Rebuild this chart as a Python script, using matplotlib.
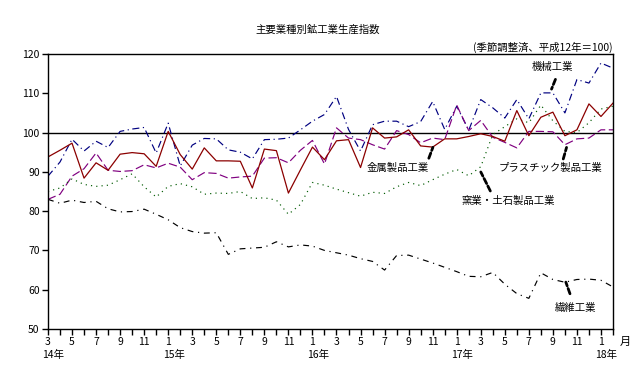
import matplotlib.pyplot as plt
import numpy as np

plt.rcParams['font.family'] = ['Noto Sans CJK JP', 'DejaVu Sans']

# months 14/3 .. 18/2 (index 0..47)
month_labels = ['3', '', '5', '', '7', '', '9', '', '11', '', '1', '',
                '3', '', '5', '', '7', '', '9', '', '11', '', '1', '',
                '3', '', '5', '', '7', '', '9', '', '11', '', '1', '',
                '3', '', '5', '', '7', '', '9', '', '11', '', '1', '']
year_labels = ['14年', '15年', '16年', '17年', '18年']
year_pos = [0, 10, 22, 34, 46]

kikai = [88.9, 92.5, 98.3, 95.3, 97.8, 96.2, 100.3, 100.9, 101.3, 94.8, 102.4, 91.5,
         96.8, 98.5, 98.4, 95.6, 95.0, 93.3, 98.2, 98.3, 98.6, 100.7, 102.9, 104.6,
         109.2, 100.8, 95.3, 102.0, 102.9, 102.9, 101.5, 102.8, 107.9, 100.8, 106.7, 100.6,
         108.4, 106.3, 103.7, 108.4, 103.5, 110.1, 110.1, 105.0, 113.5, 112.6, 117.7, 116.4]
kinzoku = [93.8, 95.5, 97.3, 88.4, 92.3, 90.4, 94.5, 94.9, 94.6, 91.4, 100.3, 94.4,
           90.7, 96.1, 92.8, 92.8, 92.7, 85.9, 95.8, 95.4, 84.6, 90.5, 96.3, 93.1,
           97.9, 98.2, 91.1, 101.2, 98.6, 98.9, 100.7, 96.6, 96.3, 98.4, 98.4, 99.0,
           99.7, 99.0, 97.8, 105.6, 99.2, 103.9, 105.2, 99.2, 100.7, 107.3, 104.1, 107.5]
plastic = [83.0, 84.3, 88.9, 90.8, 94.8, 90.4, 90.1, 90.3, 91.8, 91.0, 92.2, 91.2,
           88.0, 89.8, 89.6, 88.4, 88.7, 88.9, 93.5, 93.6, 92.3, 95.5, 98.0, 92.0,
           101.2, 98.6, 98.2, 96.9, 95.8, 100.5, 99.5, 97.4, 98.6, 98.2, 107.0, 100.5,
           103.1, 98.8, 97.5, 96.1, 100.3, 100.3, 100.2, 96.9, 98.4, 98.6, 100.7, 100.7]
yogyo = [85.0, 85.9, 88.2, 86.8, 86.3, 86.6, 88.0, 89.5, 86.2, 83.6, 86.3, 87.0,
         86.2, 84.3, 84.6, 84.5, 85.0, 83.2, 83.4, 82.8, 79.2, 81.7, 87.3, 86.6,
         85.6, 84.7, 83.8, 84.8, 84.5, 86.2, 87.3, 86.5, 88.0, 89.4, 90.6, 89.0,
         91.3, 99.5, 101.5, 103.5, 102.5, 107.0, 103.0, 100.3, 100.0, 102.5, 106.0, 106.7]
seni = [83.0, 82.0, 82.8, 82.2, 82.5, 80.6, 79.8, 79.9, 80.5, 79.2, 77.8, 75.8,
        74.8, 74.4, 74.5, 69.0, 70.4, 70.6, 70.8, 72.2, 70.9, 71.4, 71.1, 70.0,
        69.4, 68.8, 67.9, 67.2, 65.0, 68.7, 68.8, 67.8, 66.8, 65.7, 64.6, 63.4,
        63.3, 64.4, 61.4, 59.0, 57.8, 64.3, 62.6, 61.9, 62.6, 62.7, 62.4, 60.7]

x = np.arange(len(kinzoku))

fig = plt.figure(figsize=(6.38, 3.75), dpi=100)
ax = fig.add_axes([0.0752, 0.1227, 0.8856, 0.7333])

ax.axhline(100, color='black', lw=1.0, zorder=1)
ax.plot(x, kikai, color='#000080', lw=0.85, linestyle=(0, (6, 3, 1, 3)))
ax.plot(x, plastic, color='#800080', lw=0.85, linestyle=(0, (7, 3)))
ax.plot(x, yogyo, color='#005a00', lw=0.85, linestyle=(0, (1, 3.5)))
ax.plot(x, seni, color='black', lw=0.85, linestyle=(0, (5, 4, 1, 4)))
ax.plot(x, kinzoku, color='#8b0000', lw=0.9)

ax.set_xlim(0, 47)
ax.set_ylim(50, 120)
ax.set_yticks(range(50, 121, 10))
ax.set_xticks(x)
ax.set_xticklabels(month_labels, fontsize=7.5)
ax.tick_params(axis='both', direction='out', length=4, width=1, pad=2, labelsize=7.5)
for s in ax.spines.values():
    s.set_linewidth(1.0)

for pos, lab in zip(year_pos, year_labels):
    ax.text(pos + 0.45, 50 - 6.6, lab, ha='center', va='center', fontsize=7.5)
ax.text(48.0, 50 - 3.3, '月', ha='center', va='center', fontsize=8)

# series labels with leader lines
lead = dict(arrowstyle='-', lw=2, color='black', linestyle=(0, (2, 1)))
ax.text(42.0, 116.8, '機械工業', ha='center', va='center', fontsize=7.5)
ax.annotate('', xy=(41.8, 110.4), xytext=(42.3, 114.2), arrowprops=lead)
ax.text(29.1, 91.0, '金属製品工業', ha='center', va='center', fontsize=7.5)
ax.annotate('', xy=(32.1, 96.9), xytext=(31.6, 92.8), arrowprops=lead)
ax.text(41.8, 91.0, 'プラスチック製品工業', ha='center', va='center', fontsize=7.5)
ax.annotate('', xy=(43.2, 96.9), xytext=(42.8, 92.6), arrowprops=lead)
ax.text(38.3, 82.7, '窯業・土石製品工業', ha='center', va='center', fontsize=7.5)
ax.annotate('', xy=(35.9, 90.6), xytext=(36.9, 84.5), arrowprops=lead)
ax.text(43.9, 55.4, '繊維工業', ha='center', va='center', fontsize=7.5)
ax.annotate('', xy=(43.0, 62.6), xytext=(43.5, 58.3), arrowprops=lead)

fig.text(0.498, 0.92, '主要業種別鉱工業生産指数', ha='center', va='center', fontsize=7.5)
fig.text(0.96, 0.873, '(季節調整済、平成12年＝100)', ha='right', va='center', fontsize=7.5)

fig.savefig('out.png', dpi=100)
